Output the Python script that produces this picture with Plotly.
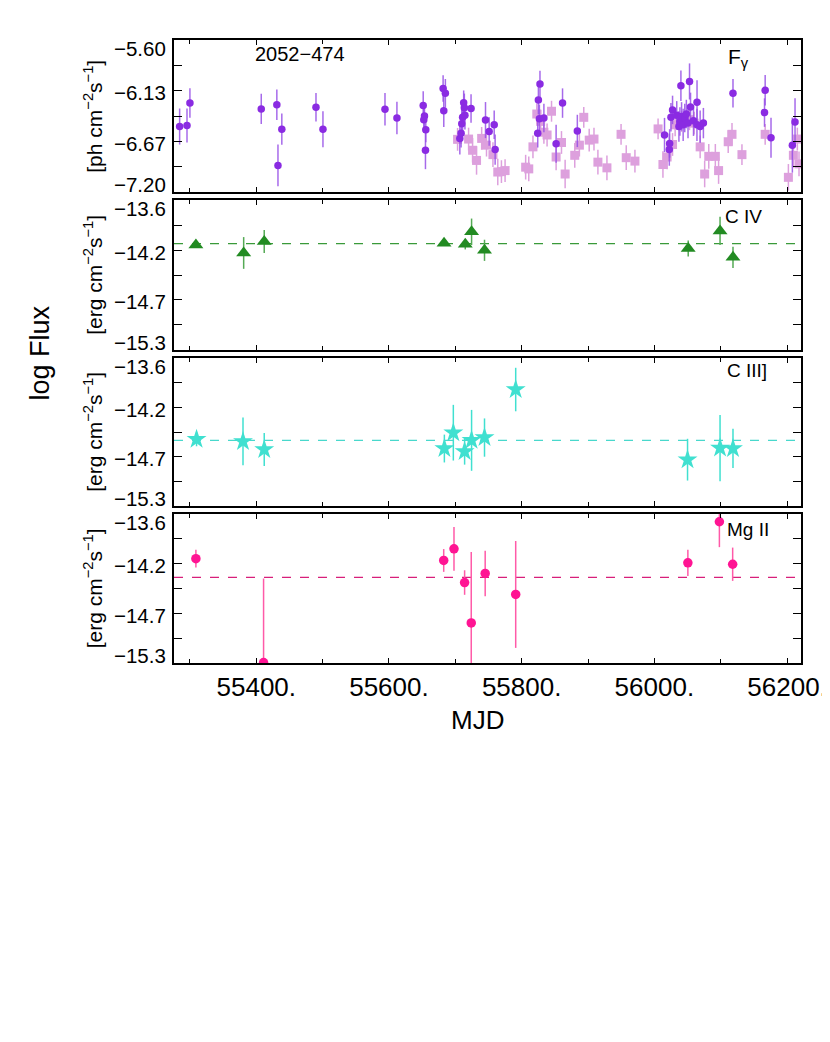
import plotly.graph_objects as go

# ---------------- data ----------------
# Fermi gamma-ray (purple circles)
g_mjd = [55284.5, 55295.6, 55300, 55407.5, 55431, 55432.7, 55438.5, 55490, 55500.5, 55594,
         55612, 55651.6, 55652.5, 55653.5, 55655.5, 55655, 55681.6, 55685, 55682.6, 55706.8,
         55708.7, 55709.7, 55711, 55712.6, 55713.6, 55714.5, 55723.7, 55745.5, 55751, 55758.6,
         55760, 55824.2, 55825.2, 55826.7, 55827.6, 55833.5, 55851.9, 55861.6, 55883.9, 56015.3,
         56022.5, 56023, 56025, 56027.4, 56033.7, 56037, 56038.5, 56040, 56041, 56043.4,
         56045.8, 56048.2, 56050.7, 56053, 56054.5, 56059, 56064.2, 56064.3, 56069, 56073.9,
         56118.5, 56166, 56167, 56175.8, 56208, 56212]
g_val = [-6.511, -6.50, -6.264, -6.325, -6.282, -6.921, -6.539, -6.307, -6.539, -6.329,
         -6.421, -6.289, -6.44, -6.40, -6.546, -6.76, -6.11, -6.16, -6.346, -6.636,
         -6.582, -6.482, -6.414, -6.261, -6.314, -6.393, -6.321, -6.443, -6.564, -6.493,
         -6.754, -6.582, -6.232, -6.429, -6.064, -6.421, -6.693, -6.264, -6.557, -6.60,
         -6.754, -6.689, -6.414, -6.336, -6.393, -6.511, -6.457, -6.082, -6.404, -6.493,
         -6.421, -6.379, -6.475, -6.036, -6.304, -6.45, -6.493, -6.254, -6.511, -6.475,
         -6.161, -6.364, -6.129, -6.629, -6.707, -6.464]
g_err = [0.19, 0.18, 0.155, 0.16, 0.16, 0.22, 0.165, 0.15, 0.19, 0.17,
         0.17, 0.15, 0.14, 0.14, 0.13, 0.20, 0.14, 0.15, 0.17, 0.17,
         0.15, 0.15, 0.15, 0.13, 0.15, 0.15, 0.15, 0.19, 0.15, 0.15,
         0.16, 0.15, 0.15, 0.15, 0.14, 0.15, 0.20, 0.155, 0.17, 0.18,
         0.17, 0.15, 0.15, 0.15, 0.15, 0.16, 0.15, 0.16, 0.15, 0.17,
         0.15, 0.15, 0.16, 0.19, 0.15, 0.16, 0.17, 0.23, 0.17, 0.16,
         0.15, 0.15, 0.16, 0.21, 0.29, 0.25]

# light plum squares
s_mjd = [55703.4, 55720, 55726, 55732, 55739.7, 55747, 55756.7, 55764, 55769.5, 55775,
         55806, 55810.7, 55817, 55822.8, 55828.6, 55833.5, 55838.3, 55845, 55851.9, 55860,
         55865.5, 55880, 55887, 55893.6, 55901.8, 55909, 55914.9, 55928.5, 55949.8, 55957.6,
         55970.7, 56005.6, 56012.9, 56019.2, 56027.4, 56031.3, 56041, 56053, 56060, 56069,
         56075.8, 56082, 56091.9, 56096.8, 56111.3, 56117, 56132, 56167, 56202, 56209.5,
         56215.5, 56218]
s_val = [-6.646, -6.643, -6.761, -6.868, -6.636, -6.707, -6.807, -6.99, -6.986, -6.975,
         -6.939, -6.957, -6.725, -6.379, -6.457, -6.571, -6.60, -6.35, -6.832, -6.679,
         -7.011, -6.814, -6.707, -6.414, -6.654, -6.643, -6.886, -6.946, -6.593, -6.839,
         -6.875, -6.536, -6.911, -6.832, -6.70, -6.493, -6.457, -6.439, -6.475, -6.725,
         -7.011, -6.825, -6.825, -6.975, -6.671, -6.593, -6.807, -6.593, -7.046, -6.814,
         -6.643, -6.904]
s_err = [0.12, 0.12, 0.13, 0.15, 0.12, 0.12, 0.13, 0.14, 0.12, 0.12,
         0.13, 0.13, 0.12, 0.11, 0.12, 0.12, 0.12, 0.11, 0.14, 0.12,
         0.15, 0.13, 0.12, 0.11, 0.12, 0.12, 0.13, 0.13, 0.11, 0.13,
         0.12, 0.11, 0.14, 0.13, 0.12, 0.12, 0.11, 0.11, 0.12, 0.12,
         0.14, 0.13, 0.13, 0.14, 0.12, 0.12, 0.11, 0.11, 0.14, 0.13,
         0.12, 0.13]

# C IV
civ_mjd = [55309, 55381, 55412, 55683, 55715, 55724.5, 55744, 56051, 56099, 56118.5]
civ_val = [-14.11, -14.20, -14.07, -14.09, -14.10, -13.96, -14.17, -14.15, -13.95, -14.25]
civ_err = [0.03, 0.18, 0.13, 0.03, 0.06, 0.15, 0.12, 0.09, 0.16, 0.12]
civ_mean = -14.094

# C III]
ciii_mjd = [55310, 55380, 55412, 55683.5, 55697, 55714, 55724.5, 55744, 55791, 56050, 56099, 56118.5]
ciii_val = [-14.534, -14.558, -14.651, -14.64, -14.458, -14.675, -14.546, -14.514, -13.962, -14.768, -14.635, -14.639]
ciii_err = [0.08, 0.275, 0.19, 0.16, 0.32, 0.15, 0.35, 0.22, 0.25, 0.24, 0.38, 0.225]
ciii_mean = -14.546

# Mg II
mg_mjd = [55309, 55411, 55682.5, 55698, 55714, 55724, 55745, 55791, 56050.5, 56098, 56118]
mg_val = [-14.109, -15.296, -14.13, -13.997, -14.382, -14.843, -14.278, -14.518, -14.157, -13.688, -14.173]
mg_err = [0.10, 0.96, 0.13, 0.25, 0.14, 0.81, 0.26, 0.61, 0.15, 0.29, 0.19]
mg_mean = -14.322

x_major = [55400, 55600, 55800, 56000, 56200]
x_major_text = ["55400.", "55600.", "55800.", "56000.", "56200."]
x_minor = [55300, 55500, 55700, 55900, 56100]

y1_ticks = [-5.6, -6.1333, -6.6667, -7.2]
y1_text = ["\u22125.60", "\u22126.13", "\u22126.67", "\u22127.20"]
y1_minor = [-5.8667, -6.4, -6.9333]
yl_ticks = [-13.6, -14.1667, -14.7333, -15.3]
yl_text = ["\u221213.6", "\u221214.2", "\u221214.7", "\u221215.3"]
yl_minor = [-13.8833, -14.45, -15.0167]

# ---------------- layout geometry ----------------
W, H = 830, 1042
L, R = 166, 814
T, B = 32, 655
panels_px = [(32, 184), (192, 342), (350, 498), (506, 655)]


def yfrac(py):
    return (B - py) / (B - T)


def xfrac(px):
    return (px - L) / (R - L)


FONT = "Liberation Sans, Arial, Helvetica, sans-serif"
XR = [55276, 56221]

fig = go.Figure()


def add(xs, ys, es, idx, color, ecolor, symbol, size, name):
    fig.add_trace(go.Scatter(
        x=xs, y=ys, mode="markers", name=name,
        xaxis="x" if idx == 1 else f"x{idx}", yaxis="y" if idx == 1 else f"y{idx}",
        marker=dict(color=color, symbol=symbol, size=size, line=dict(width=0)),
        error_y=dict(type="data", array=es, color=ecolor, thickness=1.5, width=0),
        showlegend=False, cliponaxis=True))


def add_mean(val, idx, color):
    fig.add_trace(go.Scatter(
        x=XR, y=[val, val], mode="lines",
        xaxis=f"x{idx}", yaxis=f"y{idx}",
        line=dict(color=color, width=1.2, dash="dash"), showlegend=False, hoverinfo="skip"))


add(s_mjd, s_val, s_err, 1, "#dda0dd", "#dda0dd", "square", 9, "Fg2")
add(g_mjd, g_val, g_err, 1, "#8a2be2", "rgba(150,80,230,0.85)", "circle", 7.5, "Fg")

add_mean(civ_mean, 2, "#3a9a3a")
add(civ_mjd, civ_val, civ_err, 2, "#228b22", "#55aa55", "triangle-up", 13, "CIV")

add_mean(ciii_mean, 3, "#48d8cc")
add(ciii_mjd, ciii_val, ciii_err, 3, "#40e0d0", "#40e0d0", "star", 15, "CIII")

add_mean(mg_mean, 4, "#d81f7a")
add(mg_mjd, mg_val, mg_err, 4, "#ff1493", "#ff5aa8", "circle", 9.5, "MgII")

axis_common = dict(showline=True, linecolor="black", linewidth=1.6, mirror="allticks",
                   ticks="inside", tickcolor="black", showgrid=False, zeroline=False)

layout = dict(
    width=W, height=H, paper_bgcolor="white", plot_bgcolor="white",
    margin=dict(l=L, r=W - R, t=T, b=H - B, pad=0),
    font=dict(family=FONT, color="black"),
)

for i, (top, bot) in enumerate(panels_px, start=1):
    xa = "xaxis" if i == 1 else f"xaxis{i}"
    ya = "yaxis" if i == 1 else f"yaxis{i}"
    yname = "y" if i == 1 else f"y{i}"
    xname = "x" if i == 1 else f"x{i}"
    layout[xa] = dict(axis_common, range=XR, domain=[0, 1], anchor=yname,
                      tickvals=x_major, ticktext=x_major_text, ticklen=5, tickwidth=1.3,
                      minor=dict(tickvals=x_minor, ticklen=4, ticks="inside", tickcolor="black", tickwidth=1.3),
                      showticklabels=(i == 4), tickfont=dict(size=26, family=FONT),
                      ticklabeloverflow="allow")
    if i == 1:
        yr = [-7.2005, -5.5995]
        tv, mv = y1_ticks, y1_minor
    else:
        yr = [-15.3005, -13.5995]
        tv, mv = yl_ticks, yl_minor
    layout[ya] = dict(axis_common, range=yr, domain=[yfrac(bot), yfrac(top)], anchor=xname,
                      tickvals=tv, ticklen=8, tickwidth=1.3, showticklabels=False,
                      minor=dict(tickvals=mv, ticklen=8, ticks="inside", tickcolor="black", tickwidth=1.3))

fig.update_layout(**layout)

ann = []


def A(text, px, py, size, xanchor="center", yanchor="middle", angle=0):
    ann.append(dict(text=text, x=xfrac(px), y=yfrac(py), xref="paper", yref="paper",
                    xanchor=xanchor, yanchor=yanchor, showarrow=False, textangle=angle,
                    font=dict(size=size, family=FONT, color="black")))


# y tick labels, placed on each axis' own scale (edge labels pulled inward as in the reference)
for i in range(1, 5):
    yref = "y" if i == 1 else f"y{i}"
    tv, tt = (y1_ticks, y1_text) if i == 1 else (yl_ticks, yl_text)
    shifts = [-8, -2, -2, 7]
    for v, t, s in zip(tv, tt, shifts):
        ann.append(dict(text=t, x=xfrac(160), y=v, xref="paper", yref=yref,
                        xanchor="right", yanchor="middle", yshift=s, showarrow=False,
                        font=dict(size=20.5, family=FONT, color="black")))

A("2052\u2212474", 296, 46, 20)
A("F<sub>\u03b3</sub>", 737, 50, 21, xanchor="left")
A("C IV", 776, 208, 19, xanchor="right")
A("C III]", 781, 362, 19, xanchor="right")
A("Mg II", 783, 521, 19, xanchor="right")
A("MJD", 480, 712, 26)
A("log Flux", 28, 345, 27, angle=-90)
A("[ph cm<sup>\u22122</sup>s<sup>\u22121</sup>]", 82, 108, 21, angle=-90)
for (top, bot) in panels_px[1:]:
    A("[erg cm<sup>\u22122</sup>s<sup>\u22121</sup>]", 82, (top + bot) / 2, 21, angle=-90)

fig.update_layout(annotations=ann)

fig.write_html("out.html")
